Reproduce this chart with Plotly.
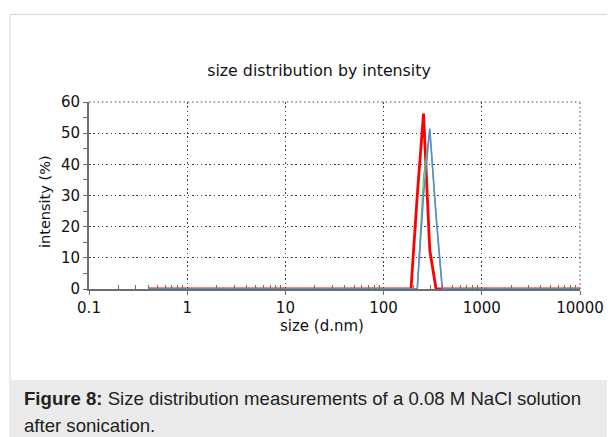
import plotly.graph_objects as go

# Standard DLS size bins (d.nm)
sizes = [0.4, 0.4632, 0.5365, 0.6213, 0.7195, 0.8332, 0.9649, 1.117, 1.294, 1.499,
         1.736, 2.010, 2.328, 2.696, 3.122, 3.615, 4.187, 4.849, 5.615, 6.503,
         7.531, 8.721, 10.10, 11.70, 13.54, 15.69, 18.17, 21.04, 24.36, 28.21,
         32.67, 37.84, 43.82, 50.75, 58.77, 68.06, 78.82, 91.28, 105.7, 122.4,
         141.8, 164.2, 190.1, 220.2, 255.0, 295.3, 342.0, 396.1, 458.7, 531.2,
         615.1, 712.4, 825.0, 955.4, 1106, 1281, 1484, 1718, 1990, 2305,
         2669, 3091, 3580, 4145, 4801, 5560, 6439, 7456, 8635, 10000]

# Non-zero intensities (%) per bin; all other bins are 0
red_peak = {220.2: 30.0, 255.0: 56.3, 295.3: 12.5}
green_peak = {255.0: 36.0, 295.3: 51.0, 342.0: 23.0}
blue_peak = {255.0: 30.0, 295.3: 51.5, 342.0: 24.0}

red_vals = [red_peak.get(s, 0.0) for s in sizes]
green_vals = [green_peak.get(s, 0.0) for s in sizes]
blue_vals = [blue_peak.get(s, 0.0) for s in sizes]

x_tick_vals = [0.1, 1, 10, 100, 1000, 10000]
x_tick_text = ["0.1", "1", "10", "100", "1000", "10000"]
y_tick_vals = [0, 10, 20, 30, 40, 50, 60]
y_minor_vals = [5, 15, 25, 35, 45, 55]

# the page body has an 8px margin, so the figure is placed at (8, 8)
OFF = 8
W, H = 615 - OFF, 437 - OFF
X0, X1 = 89, 580      # plot area left/right (screen px)
YT, YB = 102, 289     # plot area top/bottom (screen px)

def px(x):
    return (x - OFF) / W

def py(y):
    return 1 - (y - OFF) / H

GRID_DASH = "1.5px,2.8px"
GRID_COLOR = "#444"
AXIS_COLOR = "#6d6d6d"

fig = go.Figure()
fig.add_trace(go.Scatter(x=sizes, y=red_vals, mode="lines",
                         line=dict(color="#ff0000", width=2.8)))
fig.add_trace(go.Scatter(x=sizes, y=green_vals, mode="lines",
                         line=dict(color="#3ee03e", width=1.3)))
fig.add_trace(go.Scatter(x=sizes, y=blue_vals, mode="lines",
                         line=dict(color="#5f86d8", width=1.6)))

minor_x = []
for d in [0.1, 1, 10, 100, 1000]:
    for k in range(2, 10):
        minor_x.append(d * k)

fig.update_layout(
    width=W, height=H, autosize=False,
    margin=dict(l=0, r=0, t=0, b=0),
    paper_bgcolor="white", plot_bgcolor="white",
    showlegend=False,
    font=dict(family="DejaVu Sans", size=15, color="#111"),
    title=dict(text="size distribution by intensity", x=px(319), xanchor="center",
               y=py(70), yanchor="middle", automargin=False,
               font=dict(family="DejaVu Sans", size=15.8, color="#111")),
    xaxis=dict(
        type="log", range=[-1, 4], domain=[px(X0), px(X1)], automargin=False,
        tickmode="array", tickvals=x_tick_vals, ticktext=x_tick_text,
        ticks="outside", ticklen=4, tickcolor=AXIS_COLOR, tickwidth=1,
        showline=True, linecolor=AXIS_COLOR, linewidth=2,
        showgrid=True, gridcolor=GRID_COLOR, griddash=GRID_DASH, gridwidth=1,
        zeroline=False,
        minor=dict(tickmode="array", tickvals=minor_x, ticks="inside",
                   ticklen=4, tickcolor=AXIS_COLOR, showgrid=False),
        tickfont=dict(family="DejaVu Sans", size=15, color="#111"),
    ),
    yaxis=dict(
        range=[0, 60], domain=[py(YB), py(YT)], automargin=False,
        tickmode="array", tickvals=y_tick_vals,
        ticks="outside", ticklen=4, tickcolor=AXIS_COLOR, tickwidth=1,
        showline=True, linecolor=AXIS_COLOR, linewidth=2,
        showgrid=True, gridcolor=GRID_COLOR, griddash=GRID_DASH, gridwidth=1,
        zeroline=False,
        minor=dict(tickmode="array", tickvals=y_minor_vals,
                   ticks="outside", ticklen=4, tickcolor=AXIS_COLOR, showgrid=False),
        tickfont=dict(family="DejaVu Sans", size=15, color="#111"),
    ),
    shapes=[
        dict(type="rect", xref="paper", yref="paper",
             x0=px(10), x1=px(617), y0=py(440), y1=py(14.5),
             line=dict(color="#d6d6d6", width=1), fillcolor="rgba(0,0,0,0)",
             layer="below"),
        dict(type="rect", xref="paper", yref="paper",
             x0=px(10), x1=px(617), y0=py(440), y1=py(380),
             line=dict(width=0), fillcolor="#ebebeb", layer="below"),
        # dotted top and right border gridlines
        dict(type="line", xref="x domain", yref="y domain",
             x0=0, x1=1, y0=1, y1=1,
             line=dict(color=GRID_COLOR, width=1, dash=GRID_DASH)),
        dict(type="line", xref="x domain", yref="y domain",
             x0=1, x1=1, y0=0, y1=1,
             line=dict(color=GRID_COLOR, width=1, dash=GRID_DASH)),
    ],
    annotations=[
        dict(text="size (d.nm)", xref="paper", yref="paper",
             x=px(322), y=py(326), xanchor="center", yanchor="middle",
             showarrow=False, font=dict(family="DejaVu Sans", size=15, color="#111")),
        dict(text="intensity (%)", xref="paper", yref="paper", textangle=-90,
             x=px(45), y=py(202), xanchor="center", yanchor="middle",
             showarrow=False, font=dict(family="DejaVu Sans", size=14.5, color="#111")),
        dict(text="<b>Figure 8:</b> Size distribution measurements of a 0.08 M NaCl solution",
             xref="paper", yref="paper", x=px(22), y=py(398), xanchor="left",
             yanchor="middle", align="left", showarrow=False,
             font=dict(family="Liberation Sans", size=18.6, color="#222")),
        dict(text="after sonication.",
             xref="paper", yref="paper", x=px(22), y=py(425), xanchor="left",
             yanchor="middle", align="left", showarrow=False,
             font=dict(family="Liberation Sans", size=18.6, color="#222")),
    ],
)

fig.write_html("out.html")
